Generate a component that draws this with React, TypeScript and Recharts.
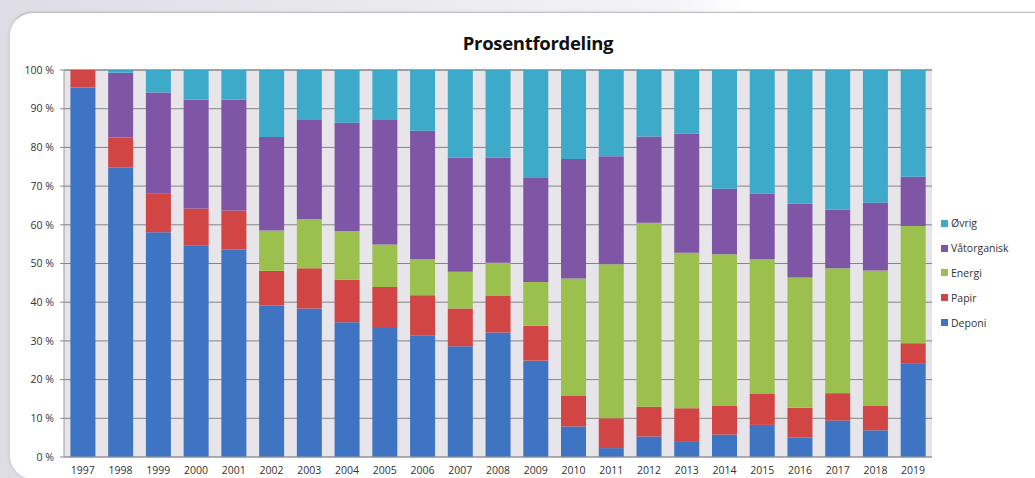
import React from 'react';
import { BarChart, Bar, XAxis, YAxis, CartesianGrid } from 'recharts';

const years = ['1997','1998','1999','2000','2001','2002','2003','2004','2005','2006','2007','2008','2009','2010','2011','2012','2013','2014','2015','2016','2017','2018','2019'];
const deponi = [95.5, 74.8, 58.1, 54.7, 53.6, 39.1, 38.4, 34.8, 33.6, 31.3, 28.6, 32.2, 24.9, 7.9, 2.3, 5.3, 3.9, 5.8, 8.3, 5.0, 9.4, 6.9, 24.2];
const papir = [4.5, 7.8, 9.9, 9.5, 10.1, 9.0, 10.4, 11.0, 10.3, 10.5, 9.8, 9.4, 9.0, 8.0, 7.7, 7.7, 8.7, 7.5, 8.0, 7.7, 7.1, 6.4, 5.2];
const energi = [0, 0, 0, 0, 0, 10.4, 12.7, 12.6, 11.0, 9.3, 9.5, 8.6, 11.3, 30.2, 39.8, 47.5, 40.2, 39.1, 34.8, 33.7, 32.3, 34.9, 30.3];
const vatorganisk = [0, 16.7, 26.2, 28.2, 28.7, 24.2, 25.6, 28.0, 32.2, 33.2, 29.5, 27.2, 26.9, 30.9, 27.9, 22.3, 30.7, 16.9, 17.0, 19.1, 15.1, 17.5, 12.7];
const ovrig = [0, 0.7, 5.8, 7.6, 7.6, 17.3, 12.9, 13.6, 12.9, 15.7, 22.6, 22.6, 27.9, 23.0, 22.3, 17.2, 16.5, 30.7, 31.9, 34.5, 36.1, 34.3, 27.6];
const yTicks = [0, 10, 20, 30, 40, 50, 60, 70, 80, 90, 100];

const series = [
  { key: 'Deponi', values: deponi, color: '#3f74c2' },
  { key: 'Papir', values: papir, color: '#d14545' },
  { key: 'Energi', values: energi, color: '#9bc04e' },
  { key: 'Våtorganisk', values: vatorganisk, color: '#7f55a6' },
  { key: 'Øvrig', values: ovrig, color: '#3eaac9' },
];

const data = years.map((y, i) => {
  const row: Record<string, string | number> = { year: y };
  series.forEach((s) => { row[s.key] = s.values[i]; });
  return row;
});

const font = '"Open Sans", "DejaVu Sans", sans-serif';

export default function App() {
  return (
    <div style={{ position: 'absolute', left: 0, top: 0, width: 1035, height: 478, overflow: 'hidden', background: 'linear-gradient(90deg, #dedde6 0%, #ebeaf0 40%, #f4f3f7 65%, #ffffff 72%)' }}>
      <div style={{ position: 'absolute', left: 9, top: 12, width: 1060, height: 466, borderRadius: 24, background: '#ffffff', borderTop: '1px solid #bdbdc4', borderLeft: '1px solid #d8d8de', boxShadow: '0 0 3px rgba(0,0,0,0.15)' }} />
      <div style={{ position: 'absolute', left: 0, top: 30, width: 1076, textAlign: 'center', fontFamily: font, fontWeight: 700, fontSize: 18.5, color: '#111', letterSpacing: -0.3 }}>
        Prosentfordeling
      </div>
      <div style={{ position: 'absolute', left: 0, top: 0 }}>
        <BarChart width={1035} height={478} data={data} margin={{ top: 70, right: 103, bottom: 0, left: 8 }} barCategoryGap="17%">
          <CartesianGrid vertical={false} stroke="#858585" fill="#e7e4ea" />
          <XAxis dataKey="year" height={21} tickLine={false} axisLine={{ stroke: '#9a9a9a' }} tick={{ fontSize: 10.5, fill: '#333', fontFamily: font }} tickMargin={4} interval={0} />
          <YAxis domain={[0, 100]} ticks={yTicks} width={56} tickFormatter={(v) => `${v} %`} axisLine={{ stroke: '#9a9a9a' }} tickLine={{ stroke: '#8c8c8c' }} tickSize={4} tickMargin={6} tick={{ fontSize: 10.5, fill: '#333', fontFamily: font }} />
          {series.map((s) => (
            <Bar key={s.key} dataKey={s.key} stackId="a" fill={s.color} isAnimationActive={false} />
          ))}
        </BarChart>
      </div>
      <div style={{ position: 'absolute', left: 941, top: 211, fontFamily: font, fontSize: 10.5, color: '#333' }}>
        {[...series].reverse().map((s) => (
          <div key={s.key} style={{ display: 'flex', alignItems: 'center', height: 24.8 }}>
            <span style={{ display: 'inline-block', width: 7, height: 7, background: s.color, marginRight: 3 }} />
            <span>{s.key}</span>
          </div>
        ))}
      </div>
    </div>
  );
}
